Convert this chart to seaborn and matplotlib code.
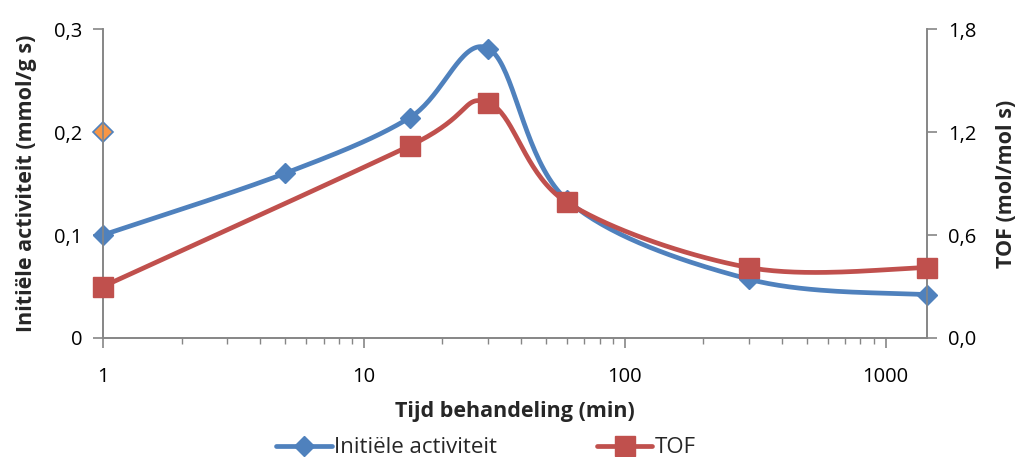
import numpy as np
import pandas as pd
import matplotlib
matplotlib.use("Agg")
import matplotlib.pyplot as plt
from matplotlib.ticker import FixedLocator, NullFormatter
import seaborn as sns

# Gegevens
tijd_act = [1, 5, 15, 30, 60, 300, 1440]
activiteit = [0.100, 0.160, 0.214, 0.281, 0.134, 0.057, 0.042]
tijd_tof = [1, 15, 30, 60, 300, 1440]
tof = [0.30, 1.12, 1.37, 0.79, 0.41, 0.41]
losse_punt_x = [1]
losse_punt_y = [0.20]

XMAX = 1440
BLAUW = "#4F81BD"
ROOD = "#C0504D"
ORANJE = "#F79646"
GRIJS = "#868686"


def glad(xs, ys, ymax, n=40):
    # Excel-achtige gladde lijn (Catmull-Rom), berekend in schermverhouding
    u = np.log10(xs) / np.log10(XMAX)
    v = np.asarray(ys) / ymax
    p = np.column_stack([u, v])
    p = np.vstack([p[0], p, p[-1]])
    pts = []
    t = np.linspace(0, 1, n)[:, None]
    for i in range(1, len(p) - 2):
        p0, p1, p2, p3 = p[i - 1], p[i], p[i + 1], p[i + 2]
        c1 = p1 + (p2 - p0) / 6
        c2 = p2 - (p3 - p1) / 6
        b = ((1 - t) ** 3) * p1 + 3 * ((1 - t) ** 2) * t * c1 \
            + 3 * (1 - t) * t ** 2 * c2 + t ** 3 * p2
        pts.append(b)
    b = np.vstack(pts)
    return 10 ** (b[:, 0] * np.log10(XMAX)), b[:, 1] * ymax


sns.set_style("white")
plt.rcParams["font.family"] = ["Open Sans", "DejaVu Sans"]

fig = plt.figure(figsize=(10.23, 4.57), dpi=100)
ax = fig.add_axes([0.1007, 0.2604, 0.8055, 0.6761])
ax2 = ax.twinx()

# lijnen
gx, gy = glad(tijd_act, activiteit, 0.3)
sns.lineplot(x=gx, y=gy, ax=ax, color=BLAUW, lw=3.4, sort=False,
             estimator=None, legend=False)
rx, ry = glad(tijd_tof, tof, 1.8)
sns.lineplot(x=rx, y=ry, ax=ax2, color=ROOD, lw=3.4, sort=False,
             estimator=None, legend=False)

# markers
ax.plot(tijd_act, activiteit, ls="none", marker="D", ms=10.5,
        color=BLAUW, clip_on=False, zorder=5)
ax.plot(losse_punt_x, losse_punt_y, ls="none", marker="D", ms=10.5,
        mfc=ORANJE, mec=BLAUW, mew=1.2, clip_on=False, zorder=5)
ax2.plot(tijd_tof, tof, ls="none", marker="s", ms=14,
         color=ROOD, clip_on=False, zorder=5)

ax.set_xscale("log")
ax.set_xlim(1, XMAX)
ax.set_ylim(0, 0.3)
ax2.set_ylim(0, 1.8)

ax.xaxis.set_major_locator(FixedLocator([1, 10, 100, 1000]))
ax.set_xticklabels(["1", "10", "100", "1000"])
minor = [m * d for d in (1, 10, 100) for m in range(2, 10)]
ax.xaxis.set_minor_locator(FixedLocator(minor))
ax.xaxis.set_minor_formatter(NullFormatter())
ax.set_yticks([0, 0.1, 0.2, 0.3])
ax.set_yticklabels(["0", "0,1", "0,2", "0,3"])
ax2.set_yticks([0, 0.6, 1.2, 1.8])
ax2.set_yticklabels(["0,0", "0,6", "1,2", "1,8"])

for a in (ax, ax2):
    for s in a.spines.values():
        s.set_color(GRIJS)
        s.set_linewidth(1.2)
    a.spines["top"].set_visible(False)
    a.tick_params(axis="both", which="both", direction="out", colors=GRIJS,
                  labelcolor="black", labelsize=14.5)
ax.tick_params(axis="x", which="major", length=7, width=1.2, bottom=True)
ax.tick_params(axis="x", which="minor", length=4.5, width=1, bottom=True)
ax.tick_params(axis="y", which="major", length=7, width=1.2, left=True)
ax2.tick_params(axis="y", which="major", length=7, width=1.2, right=True)
ax.tick_params(axis="x", pad=14)
ax.tick_params(axis="y", pad=8)
ax2.tick_params(axis="y", pad=8)
ax.grid(False)
ax2.grid(False)

ax.set_xlabel("Tijd behandeling (min)", fontsize=15.5, fontweight="bold",
              labelpad=10)
ax.set_ylabel("Initiële activiteit (mmol/g s)", fontsize=15.5,
              fontweight="bold", labelpad=12)
ax2.set_ylabel("TOF (mol/mol s)", fontsize=15.5, fontweight="bold",
               labelpad=14)

h1 = plt.Line2D([], [], color=BLAUW, lw=3.4, marker="D", ms=10.5)
h2 = plt.Line2D([], [], color=ROOD, lw=3.4, marker="s", ms=14)
fig.legend([h1, h2], ["Initiële activiteit", "TOF"], loc="center",
           bbox_to_anchor=(0.475, 0.02), ncol=2, frameon=False,
           fontsize=16, handlelength=2.5, handletextpad=0.1,
           columnspacing=4.5)

fig.savefig("out.png", dpi=100)
